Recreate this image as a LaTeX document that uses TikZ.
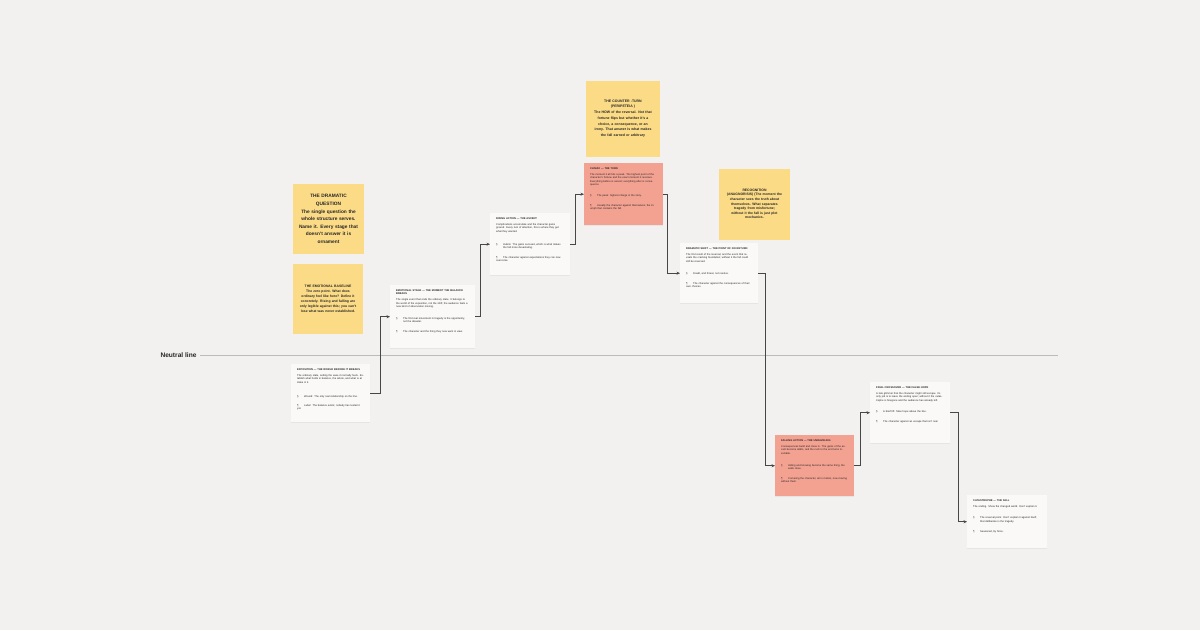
\documentclass[tikz,border=0pt]{standalone}
\usepackage{fontspec}
\setmainfont{Liberation Sans}
\usetikzlibrary{arrows.meta,shadows}
\definecolor{paper}{HTML}{F2F1EF}
\definecolor{cardbg}{HTML}{FAF9F7}
\definecolor{hot}{HTML}{F3A191}
\definecolor{stickybg}{HTML}{FCDB87}
\definecolor{ink}{HTML}{262626}
\definecolor{rulegray}{HTML}{BBBBBB}
\newcommand{\cardfont}{\fontsize{2.6}{3.1}\selectfont}
\newcommand{\beat}[3][6pt]{\par\vspace{#1}\hangindent=7pt\hangafter=1\noindent\makebox[7pt][l]{#2}#3}
\begin{document}
\begin{tikzpicture}[x=1pt,y=-1pt,
    card/.style={fill=cardbg, anchor=north west, inner xsep=6pt, inner ysep=4pt, text width=67pt, text height=2pt, align=left, font=\cardfont, text=ink, drop shadow={shadow xshift=0pt, shadow yshift=-0.6pt, opacity=0.1}},
    hotcard/.style={card, fill=hot},
    sticky/.style={fill=stickybg, align=center, text=ink, inner sep=2pt},
    link/.style={draw=ink!85, line width=0.6pt, -{Stealth[length=3.5pt,width=3pt]}}]
  \useasboundingbox (0,0) rectangle (1200,630);
  \fill[paper] (0,0) rectangle (1200,630);

  \node[anchor=east, font=\fontsize{6.6}{8}\selectfont\bfseries, text=ink] (neutral) at (200,355.5) {Neutral line};
  \coordinate (lineend) at (1058,355.5);
  \draw[rulegray, line width=0.6pt] (neutral.east) -- (lineend);

  \node[sticky, minimum width=71pt, minimum height=70pt, text width=67pt, font=\fontsize{4.8}{7.6}\selectfont\bfseries] (question) at (328.5,219) {THE DRAMATIC\\ QUESTION\\ The single question the\\ whole structure serves.\\ Name it. Every stage that\\ doesn't answer it is\\ ornament};
  \node[sticky, minimum width=70pt, minimum height=70pt, text width=66pt, font=\fontsize{3.4}{5}\selectfont\bfseries] (baseline) at (328,298.5) {THE EMOTIONAL BASELINE\\ The zero point. What does\\ ordinary feel like here? Define it\\ concretely. Rising and falling are\\ only legible against this; you can't\\ lose what was never established.};
  \node[sticky, minimum width=74pt, minimum height=76pt, text width=70pt, font=\fontsize{3.5}{5.7}\selectfont\bfseries] (counterturn) at (623,118.5) {THE COUNTER -TURN\\ (PERIPETEIA )\\ The HOW of the reversal. Not that\\ fortune flips but whether it's a\\ choice, a consequence, or an\\ irony. That answer is what makes\\ the fall earned or arbitrary};
  \node[sticky, minimum width=71pt, minimum height=71pt, text width=67pt, font=\fontsize{3.4}{4.6}\selectfont\bfseries] (recognition) at (754.5,204) {RECOGNITION\\ (ANAGNORISIS) (The moment the\\ character sees the truth about\\ themselves. What separates\\ tragedy from misfortune;\\ without it the fall is just plot\\ mechanics.};

  \node[card, text depth=48pt] (expo) at (291,364) {{\bfseries EXPOSITION — THE WORLD BEFORE IT BREAKS}\par\vspace{3.5pt}The ordinary state, setting the ease it normally feels. Establish what holds in balance, the whole, and what is at stake in it.\beat[11pt]{§}{Wound: The only real relationship on the line.}\beat{¶}{Label: The balance exists; nobody has tested it yet.}};
  \node[card, text width=73pt, text depth=53pt] (incite) at (390,285) {{\bfseries EMOTIONAL STAGE — THE MOMENT THE BALANCE BREAKS}\par\vspace{3.5pt}The single event that ends the ordinary state. It belongs to the world of the exposition, not the shift; the audience feels a new kind of observation moving.\beat[9pt]{§}{The first real movement in tragedy is the opportunity, not the disaster.}\beat[7pt]{¶}{The character and the thing they now want in view.}};
  \node[card, text width=68pt, text depth=52pt] (rising) at (490,213) {{\bfseries RISING ACTION — THE ASCENT}\par\vspace{3.5pt}Complications accumulate and the character gains ground. Every turn of attention, this is where they get what they wanted.\beat[10pt]{§}{Hubris: The gains succeed, which is what makes the fall more devastating.}\beat[7pt]{¶}{The character against expectations they can now overcome.}};
  \node[hotcard, text depth=52pt] (climax) at (584,163) {{\bfseries CLIMAX — THE TURN}\par\vspace{3.5pt}The moment it all hits a peak. The highest point of the character's fortune and the exact moment it reverses. Everything before is ascent; everything after is consequence.\beat[8pt]{§}{The peak: highest charge in the story.}\beat[7pt]{¶}{Usually the character against themselves; the triumph that contains the fall.}};
  \node[card, text width=66pt, text depth=50pt] (shift) at (680,243) {{\bfseries DRAMATIC SHIFT — THE POINT OF NO RETURN}\par\vspace{3.5pt}The first result of the reversal, and the event that reveals the cracking foundation; without it the fall could still be reversed.\beat[9pt]{§}{Doubt, and threat, not resolve.}\beat[7pt]{¶}{The character against the consequences of their own choices.}};
  \node[hotcard, text depth=51pt] (falling) at (775,435) {{\bfseries FALLING ACTION — THE UNRAVELING}\par\vspace{3.5pt}Consequences build and close in. The gains of the ascent become debts, and the rush to the end turns inevitable.\beat[9pt]{§}{Hiding and knowing become the same thing; the walls close.}\beat[7pt]{¶}{Cornering the character, all in motion, now moving without them.}};
  \node[card, text width=68pt, text depth=51pt] (crossover) at (870,382) {{\bfseries FINAL CROSSOVER — THE FALSE HOPE}\par\vspace{3.5pt}A late glimmer that the character might still escape. Its only job is to leave the ending open; without it the catastrophe is foregone and the audience has already left.\beat[8pt]{§}{A brief lift: false hope above the line.}\beat[7pt]{¶}{The character against an escape that isn't real.}};
  \node[card, text width=68pt, text depth=43pt] (catastrophe) at (967,495) {{\bfseries CATASTROPHE — THE FALL}\par\vspace{3.5pt}The ending. Show the changed world. Don't explain it.\beat[8pt]{§}{The reversal point. Don't explain it against itself; that deliberate is the tragedy.}\beat[7pt]{¶}{Seasoned, by force.}};

  \draw[link] (expo.east) -- ++(10,0) |- (incite.west);
  \draw[link] (incite.east) -- ++(5,0) |- (rising.west);
  \draw[link] (rising.east) -- ++(5,0) |- (climax.west);
  \draw[link] (climax.east) -- ++(4,0) |- (shift.west);
  \draw[link] (shift.east) -- ++(7,0) |- (falling.west);
  \draw[link] (falling.east) -- ++(6,0) |- (crossover.west);
  \draw[link] (crossover.east) -- ++(8,0) |- (catastrophe.west);
\end{tikzpicture}
\end{document}
